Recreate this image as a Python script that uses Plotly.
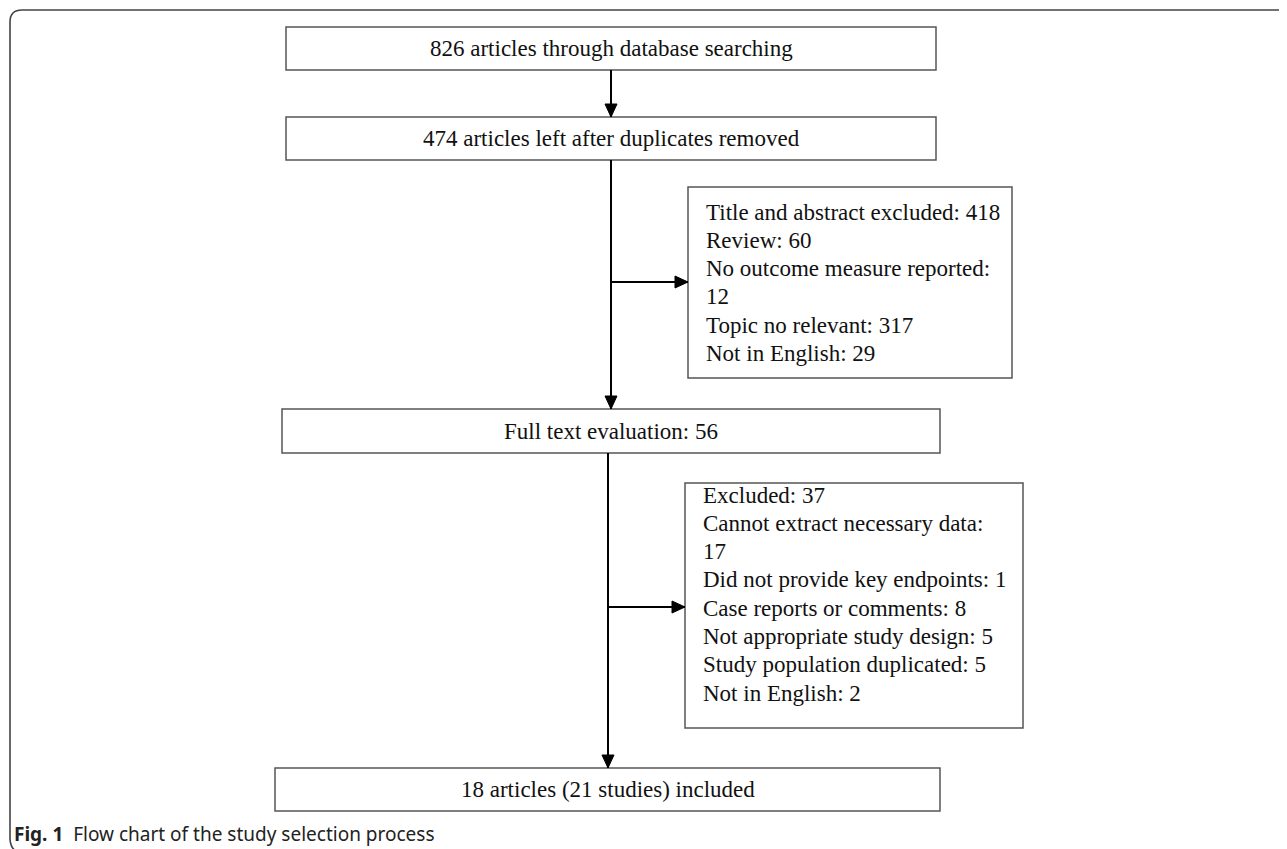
import plotly.graph_objects as go

# ---- data ----
main_labels = [
    "826 articles through database searching",
    "474 articles left after duplicates removed",
    "Full text evaluation: 56",
    "18 articles (21 studies) included",
]
excl1_lines = [
    "Title and abstract excluded: 418",
    "Review: 60",
    "No outcome measure reported:",
    "12",
    "Topic no relevant: 317",
    "Not in English: 29",
]
excl2_lines = [
    "Excluded: 37",
    "Cannot extract necessary data:",
    "17",
    "Did not provide key endpoints: 1",
    "Case reports or comments: 8",
    "Not appropriate study design: 5",
    "Study population duplicated: 5",
    "Not in English: 2",
]
caption_bold = "Fig. 1"
caption_text = "Flow chart of the study selection process"

# ---- layout geometry (page pixel coordinates) ----
W, H = 1287, 849
OFF = 8  # page body margin
main_boxes = [(286, 936, 27, 70), (286, 936, 117, 160), (282, 940, 409, 453), (275, 940, 768, 811)]
side_boxes = [(688, 1012, 187, 378), (685, 1023, 483, 728)]
side_text_x = [704, 701]
side_first_y = [212, 495]
line_step = 28.3

SERIF = "Liberation Serif"
BOX_COL = "#555555"
FS = 23

fig = go.Figure()
fig.add_trace(go.Scatter(x=[OFF + 1, W - 1], y=[OFF + 1, H - 1], mode="markers", marker=dict(opacity=0),
                         hoverinfo="skip", showlegend=False))

shapes = []
annotations = []

# outer frame
shapes.append(dict(type="path", xref="x", yref="y",
                   path=f"M {W+20} 10 L 22 10 Q 10 10 10 22 L 10 838 Q 10 849 18 852",
                   line=dict(color="#444444", width=1.6)))

for (x0, x1, y0, y1), lab in zip(main_boxes, main_labels):
    shapes.append(dict(type="rect", xref="x", yref="y", x0=x0, x1=x1, y0=y0, y1=y1,
                       line=dict(color=BOX_COL, width=1.5), fillcolor="white"))
    annotations.append(dict(x=(x0 + x1) / 2, y=(y0 + y1) / 2, xref="x", yref="y", text=lab,
                            showarrow=False, xanchor="center", yanchor="middle",
                            font=dict(family=SERIF, size=FS, color="#111111")))

for (x0, x1, y0, y1), tx, fy, lines in zip(side_boxes, side_text_x, side_first_y, [excl1_lines, excl2_lines]):
    shapes.append(dict(type="rect", xref="x", yref="y", x0=x0, x1=x1, y0=y0, y1=y1,
                       line=dict(color=BOX_COL, width=1.5), fillcolor="white"))
    for i, ln in enumerate(lines):
        annotations.append(dict(x=tx, y=fy + i * line_step, xref="x", yref="y", text=ln,
                                showarrow=False, xanchor="left", yanchor="middle",
                                font=dict(family=SERIF, size=FS, color="#111111")))


def arrow(x0, y0, x1, y1):
    shapes.append(dict(type="line", xref="x", yref="y", x0=x0, y0=y0, x1=x1, y1=y1,
                       line=dict(color="black", width=2)))
    L, w = 13, 6
    if x0 == x1:  # vertical, downward
        p = f"M {x1} {y1} L {x1 - w} {y1 - L} L {x1 + w} {y1 - L} Z"
    else:  # horizontal, rightward
        p = f"M {x1} {y1} L {x1 - L} {y1 - w} L {x1 - L} {y1 + w} Z"
    shapes.append(dict(type="path", xref="x", yref="y", path=p,
                       fillcolor="black", line=dict(color="black", width=1)))


arrow(611, 70, 611, 117)
arrow(611, 160, 611, 409)
arrow(611, 282, 688, 282)
arrow(608, 453, 608, 768)
arrow(608, 607, 685, 607)

annotations.append(dict(x=12, y=834, xref="x", yref="y",
                        text=f"<b>{caption_bold}</b>  {caption_text}",
                        showarrow=False, xanchor="left", yanchor="middle",
                        font=dict(family="Noto Sans", size=19, color="#222222")))

fig.update_layout(
    width=W - OFF, height=H - OFF, margin=dict(l=0, r=0, t=0, b=0),
    paper_bgcolor="white", plot_bgcolor="white",
    xaxis=dict(range=[OFF, W], visible=False, fixedrange=True),
    yaxis=dict(range=[H, OFF], visible=False, fixedrange=True),
    shapes=shapes, annotations=annotations, showlegend=False,
)

fig.write_html("out.html")
